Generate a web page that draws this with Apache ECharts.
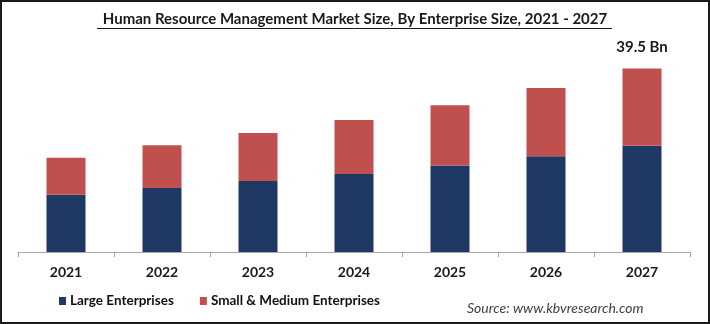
<!DOCTYPE html>
<html>
<head>
<meta charset="utf-8">
<script src="https://cdn.jsdelivr.net/npm/echarts@6/dist/echarts.min.js"></script>
<style>html,body{margin:0;padding:0;background:#fff}#c{width:710px;height:324px}</style>
</head>
<body>
<div id="c"></div>
<script>
const categories = ['2021','2022','2023','2024','2025','2026','2027'];
const largeEnterprises = [12.3, 13.8, 15.3, 16.8, 18.6, 20.6, 22.9];
const smallMediumEnterprises = [8.0, 9.2, 10.3, 11.6, 13.0, 14.7, 16.6];
const seriesNames = ['Large Enterprises', 'Small & Medium Enterprises'];
const titleText = 'Human Resource Management Market Size, By Enterprise Size, 2021 - 2027';
const sourceText = 'Source: www.kbvresearch.com';
const lastLabel = '39.5 Bn';

const FONT = 'Lato, "Open Sans", sans-serif';
const chart = echarts.init(document.getElementById('c'), null, {renderer: 'canvas'});
const lastIdx = categories.length - 1;

chart.setOption({
  animation: false,
  backgroundColor: '#fff',
  grid: {left: 18, right: 20, top: 43, bottom: 72, containLabel: false},
  legend: {
    left: 54, top: 289,
    itemWidth: 7, itemHeight: 8, itemGap: 26,
    icon: 'rect',
    textStyle: {fontFamily: FONT, fontSize: 13.5, color: '#111', fontWeight: 'bold', padding: [0,0,0,-1]},
    data: seriesNames
  },
  xAxis: {
    type: 'category',
    data: categories,
    axisLine: {lineStyle: {color: '#a6a6a6', width: 1}},
    axisTick: {show: true, length: 5, lineStyle: {color: '#a6a6a6'}},
    axisLabel: {fontFamily: FONT, fontSize: 14, fontWeight: 'bold', color: '#1a1a1a', margin: 13}
  },
  yAxis: {
    type: 'value', min: 0, max: 45, show: false, splitLine: {show: false}
  },
  series: [
    {
      name: seriesNames[0], type: 'bar', stack: 't', barWidth: 39,
      itemStyle: {color: '#1f3864'},
      data: largeEnterprises
    },
    {
      name: seriesNames[1], type: 'bar', stack: 't', barWidth: 39,
      itemStyle: {color: '#c0504d'},
      data: smallMediumEnterprises.map((v, i) => i === lastIdx ? {
        value: v,
        label: {show: true, position: 'top', distance: 14, formatter: lastLabel,
          fontFamily: FONT, fontSize: 15, fontWeight: 'bold', color: '#1a1a1a'}
      } : v)
    }
  ],
  graphic: [
    {type: 'text', left: 'center', top: 12,
      style: {text: titleText, fontFamily: FONT, fontSize: 15, fontWeight: 'bold', fill: '#1a1a1a'}},
    {type: 'line', shape: {x1: 97, y1: 28.5, x2: 612, y2: 28.5}, style: {stroke: '#1a1a1a', lineWidth: 1}},
    {type: 'text', left: 467, top: 301,
      style: {text: sourceText, fontFamily: FONT, fontSize: 14, fontStyle: 'italic', fill: '#404040'}},
    {type: 'rect', shape: {x: 1, y: 1, width: 708, height: 322}, style: {fill: 'none', stroke: '#1a1a1a', lineWidth: 2}}
  ]
});
</script>
</body>
</html>
